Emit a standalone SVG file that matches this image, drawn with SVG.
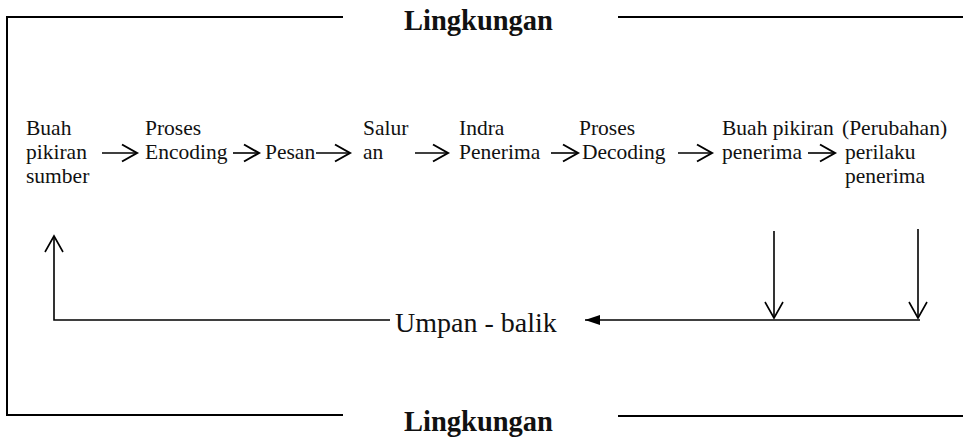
<svg xmlns="http://www.w3.org/2000/svg" width="963" height="437" viewBox="0 0 963 437">
<style>
.t{font-family:"Liberation Serif","Times New Roman",serif;font-size:21.5px;fill:#111}
.h{font-family:"Liberation Serif","Times New Roman",serif;font-size:28.5px;font-weight:bold;fill:#111}
.u{font-family:"Liberation Serif","Times New Roman",serif;font-size:28px;fill:#111}
.b{fill:none;stroke:#000;stroke-width:2}
.a{fill:none;stroke:#000;stroke-width:1.6}
</style>
<defs>
<marker id="cs" markerUnits="userSpaceOnUse" viewBox="-18 -12 22 24" markerWidth="22" markerHeight="24" refX="0" refY="0" orient="auto" overflow="visible">
<path d="M-15,-8.5 L0,0 L-15,8.5" fill="none" stroke="#000" stroke-width="2"/>
</marker>
<marker id="cl" markerUnits="userSpaceOnUse" viewBox="-20 -12 24 24" markerWidth="24" markerHeight="24" refX="0" refY="0" orient="auto" overflow="visible">
<path d="M-16,-9 L0,0 L-16,9" fill="none" stroke="#000" stroke-width="1.6"/>
</marker>
<marker id="ft" markerUnits="userSpaceOnUse" viewBox="-16 -8 20 16" markerWidth="20" markerHeight="16" refX="0" refY="0" orient="auto" overflow="visible">
<path d="M-15,-5 L0,0 L-15,5 Z" fill="#000"/>
</marker>
</defs>
<g id="frame">
<path class="b" d="M343,17 H7 V415 H343"/>
<path class="b" d="M618,17 H963"/>
<path class="b" d="M618,416 H963"/>
</g>
<g id="env-top"><text class="h" x="404" y="30">Lingkungan</text></g>
<g id="env-bottom"><text class="h" x="404" y="431">Lingkungan</text></g>
<g id="n1"><text class="t" x="26" y="135">Buah</text><text class="t" x="26" y="159">pikiran</text><text class="t" x="26" y="183">sumber</text></g>
<g id="n2"><text class="t" x="145" y="135">Proses</text><text class="t" x="145" y="159">Encoding</text></g>
<g id="n3"><text class="t" x="265" y="159">Pesan</text></g>
<g id="n4"><text class="t" x="363" y="135">Salur</text><text class="t" x="363" y="159">an</text></g>
<g id="n5"><text class="t" x="459" y="135">Indra</text><text class="t" x="459" y="159">Penerima</text></g>
<g id="n6"><text class="t" x="579" y="135">Proses</text><text class="t" x="582" y="159">Decoding</text></g>
<g id="n7"><text class="t" x="722" y="135">Buah pikiran</text><text class="t" x="722" y="159">penerima</text></g>
<g id="n8"><text class="t" x="842" y="135">(Perubahan)</text><text class="t" x="845" y="159">perilaku</text><text class="t" x="845" y="183">penerima</text></g>
<g id="feedback"><text class="u" x="395" y="332">Umpan - balik</text></g>
<g id="connectors">
<line class="a" x1="102" y1="153" x2="137" y2="153" marker-end="url(#cs)"/>
<line class="a" x1="233" y1="153" x2="259" y2="153" marker-end="url(#cs)"/>
<line class="a" x1="316" y1="153" x2="350" y2="153" marker-end="url(#cs)"/>
<line class="a" x1="415" y1="153" x2="448" y2="153" marker-end="url(#cs)"/>
<line class="a" x1="551" y1="153" x2="578" y2="153" marker-end="url(#cs)"/>
<line class="a" x1="678" y1="153" x2="712" y2="153" marker-end="url(#cs)"/>
<line class="a" x1="808" y1="153" x2="835" y2="153" marker-end="url(#cs)"/>
<line class="a" x1="774" y1="231" x2="774" y2="318" marker-end="url(#cl)"/>
<line class="a" x1="918" y1="229" x2="918" y2="318" marker-end="url(#cl)"/>
<line class="a" x1="920" y1="320" x2="585" y2="320" marker-end="url(#ft)"/>
<polyline class="a" points="390,320 54,320 54,236" marker-end="url(#cl)"/>
</g>
</svg>
